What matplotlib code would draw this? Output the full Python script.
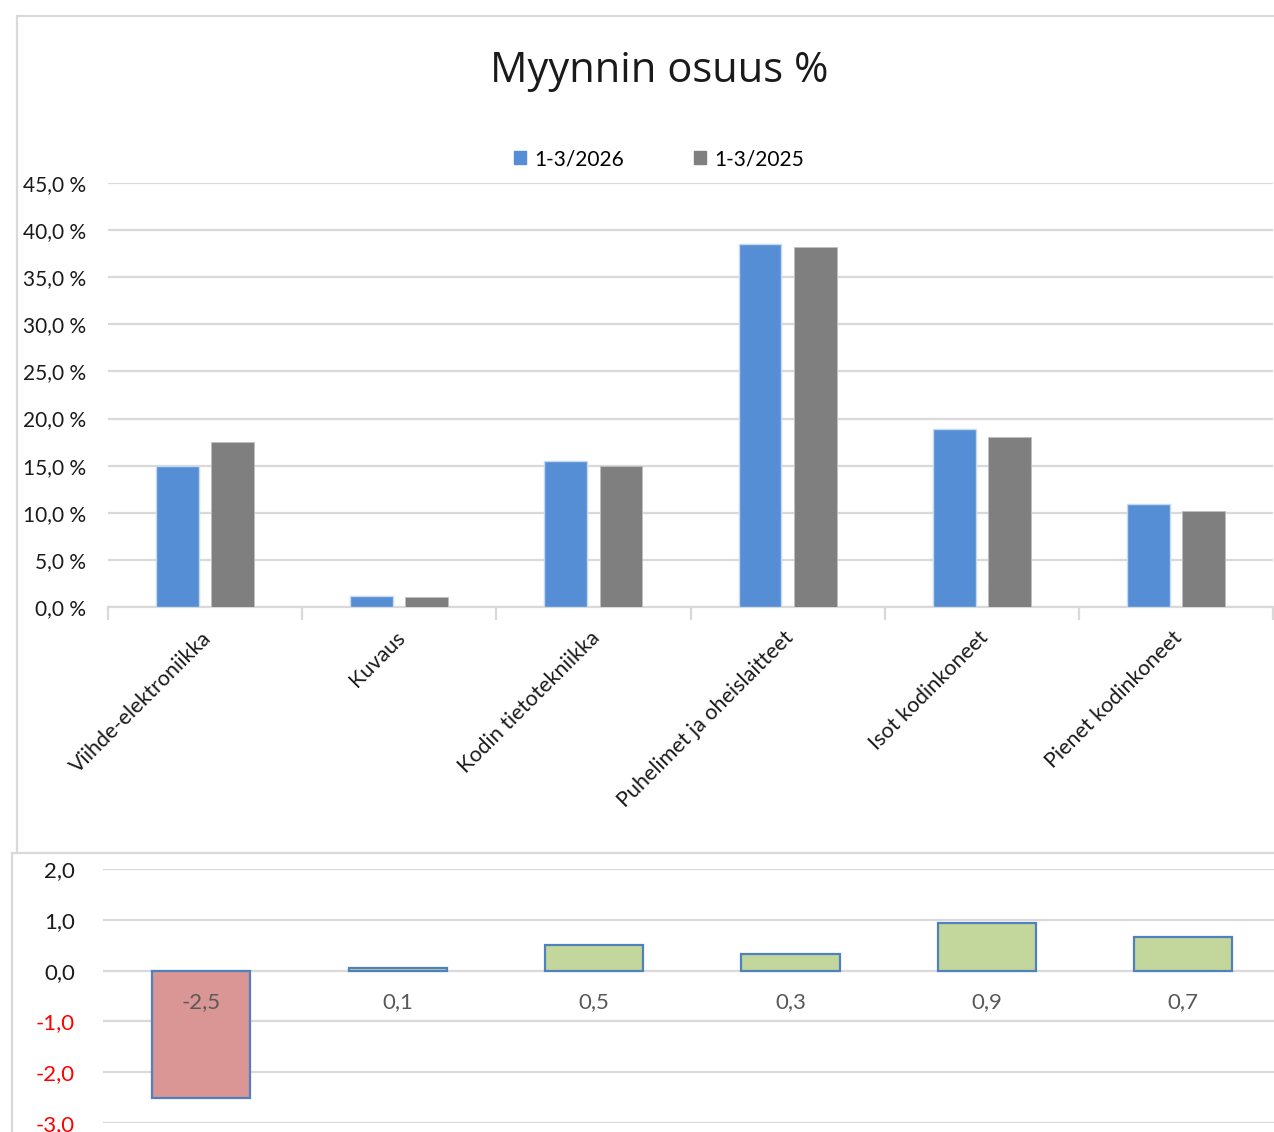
import matplotlib
matplotlib.use("Agg")
import matplotlib.pyplot as plt
from matplotlib.lines import Line2D
from matplotlib.patches import Rectangle
import matplotlib.transforms as mtransforms
import numpy as np

categories = ["Viihde-elektroniikka", "Kuvaus", "Kodin tietotekniikka",
              "Puhelimet ja oheislaitteet", "Isot kodinkoneet", "Pienet kodinkoneet"]
series_names = ["1-3/2026", "1-3/2025"]
share_2026 = [15.0, 1.2, 15.5, 38.5, 18.9, 10.9]
share_2025 = [17.5, 1.1, 15.0, 38.2, 18.0, 10.2]
diff = [-2.5, 0.06, 0.51, 0.33, 0.94, 0.66]
top_ticks = [0, 5, 10, 15, 20, 25, 30, 35, 40, 45]
bottom_ticks = [-3, -2, -1, 0, 1, 2]

plt.rcParams['font.family'] = ['Lato', 'DejaVu Sans']

W, H = 1274, 1132
fig = plt.figure(figsize=(W / 100, H / 100), dpi=100)

def fx(px):
    return px / W

def fy(py):
    return 1 - py / H

GRID = "#D9D9D9"

# frames
fig.add_artist(Line2D([fx(17), fx(17)], [fy(16), fy(853)], color=GRID, lw=1.6))
fig.add_artist(Line2D([fx(17), fx(1274)], [fy(16), fy(16)], color=GRID, lw=1.6))
fig.add_artist(Line2D([fx(12), fx(1274)], [fy(853), fy(853)], color=GRID, lw=1.6))
fig.add_artist(Line2D([fx(12), fx(12)], [fy(853), fy(1132)], color=GRID, lw=1.6))

# ---- top chart ----
ax = fig.add_axes([fx(108), fy(607), fx(1273) - fx(108), fy(183) - fy(607)])
x = np.arange(len(categories))
bw = 0.22
off = 0.142
ax.bar(x - off, share_2026, bw, color="#558ED5", edgecolor="#C6D9F1", linewidth=1.0,
       label=series_names[0], zorder=3)
ax.bar(x + off, share_2025, bw, color="#7F7F7F", edgecolor="#BFBFBF", linewidth=0.6,
       label=series_names[1], zorder=3)
ax.set_xlim(-0.5, len(categories) - 0.5)
ax.set_ylim(0, 45)
ax.set_yticks(top_ticks)
ax.set_yticklabels([f"{v:.1f}".replace(".", ",") + " %" for v in top_ticks], fontsize=15,
                   color="#1a1a1a")
ax.yaxis.grid(True, color=GRID, lw=1.6, zorder=0)
ax.set_axisbelow(True)
for s in ["top", "right", "left"]:
    ax.spines[s].set_visible(False)
ax.spines["bottom"].set_color(GRID)
ax.spines["bottom"].set_linewidth(1.6)
ax.tick_params(axis="y", length=0, pad=16)
ax.set_xticks(np.arange(-0.5, len(categories)), minor=False)
ax.set_xticklabels([])
ax.tick_params(axis="x", which="major", length=9, color=GRID, width=1.6)
ax.set_xticks(x, minor=True)
ax.set_xticklabels(categories, minor=True, rotation=45, ha="right",
                   rotation_mode="anchor", fontsize=15.5, color="#1a1a1a")
ax.tick_params(axis="x", which="minor", length=0, pad=15)
shift = mtransforms.ScaledTranslation(-4 / 100, 0, fig.dpi_scale_trans)
for lbl in ax.get_xticklabels(minor=True):
    lbl.set_transform(lbl.get_transform() + shift)

fig.text(fx(659), fy(71), "Myynnin osuus %", ha="center", va="center", fontsize=30,
         color="#1a1a1a", family=["Open Sans", "DejaVu Sans"])

# legend
handles = [Rectangle((0, 0), 1, 1, color="#558ED5"), Rectangle((0, 0), 1, 1, color="#7F7F7F")]
fig.legend(handles, series_names, loc="center", bbox_to_anchor=(fx(659), fy(159)), ncol=2,
           frameon=False, fontsize=15, handlelength=0.55, handleheight=0.55,
           handletextpad=0.4, columnspacing=3.4)

# ---- bottom chart ----
ax2 = fig.add_axes([fx(103), fy(1123), fx(1274) - fx(103), fy(869) - fy(1123)])
colors = ["#D99694" if v < 0 else "#C3D69B" for v in diff]
ax2.bar(x, diff, 0.5, color=colors, edgecolor="#4F81BD", linewidth=1.6, zorder=3)
ax2.set_xlim(-0.5, -0.5 + 1171 / 196.4)
ax2.set_ylim(-3, 2)
ax2.set_yticks(bottom_ticks)
ax2.set_yticklabels([f"{v:.1f}".replace(".", ",") for v in bottom_ticks], fontsize=16)
for lbl, v in zip(ax2.get_yticklabels(), bottom_ticks):
    lbl.set_color("#FF0000" if v < 0 else "#1a1a1a")
ax2.yaxis.grid(True, color=GRID, lw=1.6, zorder=0)
ax2.set_axisbelow(True)
for s in ax2.spines.values():
    s.set_visible(False)
ax2.tick_params(axis="y", length=0, pad=20)
ax2.set_xticks([])
for xi, v in zip(x, diff):
    ax2.annotate(f"{v:.1f}".replace(".", ","), (xi, 0), xytext=(0, -31), textcoords="offset pixels",
                 ha="center", va="center", fontsize=16, color="#595959", zorder=4)

fig.savefig("out.png", dpi=100)
